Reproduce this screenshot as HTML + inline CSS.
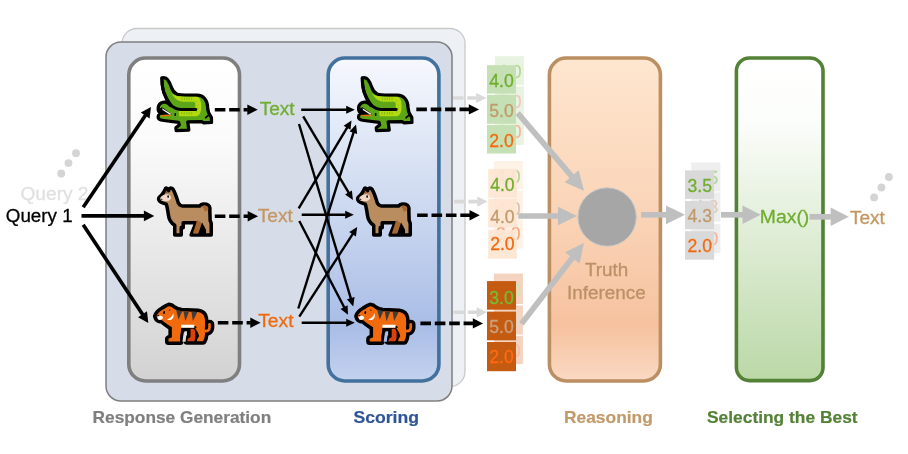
<!DOCTYPE html>
<html><head><meta charset="utf-8">
<style>
html,body{margin:0;padding:0;background:#fff;}
svg{display:block}
text{filter:url(#idf);stroke-width:0.3px;stroke-linejoin:round}
.b text{stroke-width:0.2px}
text{font-family:"Liberation Sans",sans-serif}
</style></head><body>
<svg width="908" height="454" viewBox="0 0 908 454">
<defs>
<filter id="idf" x="-5%" y="-20%" width="110%" height="140%" color-interpolation-filters="sRGB"><feOffset dx="0" dy="0"/></filter>
<linearGradient id="gGray" x1="0" y1="0" x2="0" y2="1"><stop offset="0" stop-color="#ffffff"/><stop offset="0.25" stop-color="#fbfbfb"/><stop offset="1" stop-color="#d2d2d2"/></linearGradient>
<linearGradient id="gBlue" x1="0" y1="0" x2="0" y2="1"><stop offset="0" stop-color="#f6f8fd"/><stop offset="0.5" stop-color="#c9d6ef"/><stop offset="0.83" stop-color="#a9bde6"/><stop offset="1" stop-color="#c4d2ee"/></linearGradient>
<linearGradient id="gOr" x1="0" y1="0" x2="0" y2="1"><stop offset="0" stop-color="#fee6cf"/><stop offset="0.5" stop-color="#fad3b6"/><stop offset="0.83" stop-color="#f6c29f"/><stop offset="1" stop-color="#fad9c3"/></linearGradient>
<linearGradient id="gGr" x1="0" y1="0" x2="0" y2="1"><stop offset="0" stop-color="#ffffff"/><stop offset="0.2" stop-color="#fbfdfa"/><stop offset="1" stop-color="#bbd8a7"/></linearGradient>
</defs>

<rect x="122" y="28.5" width="343" height="358" rx="15" fill="#edf1f5" stroke="#c9c9c9" stroke-width="1.3"/>
<line x1="409.7" y1="98.0" x2="476.7" y2="98.0" stroke="#d9d9d9" stroke-width="3.6" stroke-dasharray="10.6 3.8"/><polygon points="486.5,98.0 476.2,103.1 476.2,92.9" fill="#d9d9d9"/>
<line x1="410.8" y1="201.6" x2="477.8" y2="201.6" stroke="#d9d9d9" stroke-width="3.6" stroke-dasharray="10.6 3.8"/><polygon points="487.6,201.6 477.3,206.7 477.3,196.5" fill="#d9d9d9"/>
<line x1="410.2" y1="312.3" x2="477.2" y2="312.3" stroke="#d9d9d9" stroke-width="3.6" stroke-dasharray="10.6 3.8"/><polygon points="487.0,312.3 476.7,317.4 476.7,307.2" fill="#d9d9d9"/>
<rect x="106" y="42" width="346" height="359" rx="15" fill="#d6dce8" stroke="#7f7f7f" stroke-width="1.5"/>
<rect x="128.8" y="58" width="110.7" height="323" rx="16.8" fill="url(#gGray)" stroke="#7f7f7f" stroke-width="3.6"/>
<rect x="328.2" y="58" width="110.7" height="323" rx="16.8" fill="url(#gBlue)" stroke="#41719c" stroke-width="3.6"/>
<rect x="549.4" y="58" width="111" height="323" rx="16.8" fill="url(#gOr)" stroke="#bc8f63" stroke-width="3.6"/>
<rect x="736.4" y="58" width="86.6" height="322.6" rx="13" fill="url(#gGr)" stroke="#538135" stroke-width="3.6"/>
<g class="b" font-weight="bold" font-size="17">
<text x="92.6" y="422.7" fill="#7f7f7f" stroke="#7f7f7f" textLength="178.6" lengthAdjust="spacingAndGlyphs">Response Generation</text>
<text x="353.4" y="422.7" fill="#2f5597" stroke="#2f5597" textLength="65.6" lengthAdjust="spacingAndGlyphs">Scoring</text>
<text x="564" y="422.7" fill="#c19a6b" stroke="#c19a6b" textLength="88.8" lengthAdjust="spacingAndGlyphs">Reasoning</text>
<text x="707" y="422.7" fill="#538135" stroke="#538135" textLength="150.6" lengthAdjust="spacingAndGlyphs">Selecting the Best</text>
</g>
<g font-size="18.9">
<text x="20.5" y="199.5" fill="#e1e1e1" stroke="#e1e1e1" textLength="68" lengthAdjust="spacingAndGlyphs">Query 2</text>
<text x="5.8" y="221.5" fill="#000" stroke="#000" textLength="66.8" lengthAdjust="spacingAndGlyphs">Query 1</text>
<text x="259.7" y="115.4" fill="#70ad2f" stroke="#70ad2f" textLength="35" lengthAdjust="spacingAndGlyphs">Text</text>
<text x="257.7" y="221.7" fill="#c39762" stroke="#c39762" textLength="35.2" lengthAdjust="spacingAndGlyphs">Text</text>
<text x="258.2" y="326.9" fill="#f26a0e" stroke="#f26a0e" textLength="35.4" lengthAdjust="spacingAndGlyphs">Text</text>
<text x="759.8" y="222.8" fill="#70ad2f" stroke="#70ad2f" textLength="49.5" lengthAdjust="spacingAndGlyphs">Max()</text>
<text x="849.9" y="223.9" fill="#c39762" stroke="#c39762" textLength="35" lengthAdjust="spacingAndGlyphs">Text</text>
<text x="606.6" y="276.4" fill="#bb9166" stroke="#bb9166" text-anchor="middle" font-size="18.9">Truth</text>
<text x="606.4" y="299.3" fill="#bb9166" stroke="#bb9166" text-anchor="middle" font-size="18.9">Inference</text>
</g>
<circle cx="76" cy="153.2" r="3.9" fill="#d4d4d4"/>
<circle cx="68.5" cy="163.1" r="3.9" fill="#d4d4d4"/>
<circle cx="61.2" cy="173.5" r="3.9" fill="#d4d4d4"/>
<circle cx="888.9" cy="177" r="3.9" fill="#d4d4d4"/>
<circle cx="881.4" cy="187.5" r="3.9" fill="#d4d4d4"/>
<circle cx="874.1" cy="197.4" r="3.9" fill="#d4d4d4"/>
<line x1="83.2" y1="207.2" x2="145.5" y2="115.2" stroke="#000" stroke-width="3.6"/><polygon points="151.0,107.0 149.6,118.6 140.8,112.6" fill="#000"/>
<line x1="81.5" y1="215.9" x2="144.4" y2="215.9" stroke="#000" stroke-width="3.6"/><polygon points="154.3,215.9 143.9,221.2 143.9,210.6" fill="#000"/>
<line x1="83.2" y1="224.8" x2="142.8" y2="314.7" stroke="#000" stroke-width="3.6"/><polygon points="148.3,322.9 138.1,317.2 147.0,311.3" fill="#000"/>
<line x1="214.8" y1="109.7" x2="247.8" y2="109.7" stroke="#000" stroke-width="3.6" stroke-dasharray="10.6 3.8"/><polygon points="257.7,109.7 247.3,114.9 247.3,104.5" fill="#000"/>
<line x1="214.8" y1="216.2" x2="248.2" y2="216.2" stroke="#000" stroke-width="3.6" stroke-dasharray="10.6 3.8"/><polygon points="258.1,216.2 247.7,221.4 247.7,211.0" fill="#000"/>
<line x1="217.8" y1="322.8" x2="250.8" y2="322.8" stroke="#000" stroke-width="3.6" stroke-dasharray="10.6 3.8"/><polygon points="260.7,322.8 250.3,327.9 250.3,317.6" fill="#000"/>
<line x1="416.3" y1="109.4" x2="469.3" y2="109.4" stroke="#000" stroke-width="3.6" stroke-dasharray="10.6 3.8"/><polygon points="479.1,109.4 468.8,114.6 468.8,104.2" fill="#000"/>
<line x1="417.1" y1="215.3" x2="470.0" y2="215.3" stroke="#000" stroke-width="3.6" stroke-dasharray="10.6 3.8"/><polygon points="479.8,215.3 469.5,220.5 469.5,210.1" fill="#000"/>
<line x1="420.4" y1="323.4" x2="473.3" y2="323.4" stroke="#000" stroke-width="3.6" stroke-dasharray="10.6 3.8"/><polygon points="483.1,323.4 472.8,328.6 472.8,318.2" fill="#000"/>
<line x1="301.2" y1="109.8" x2="346.7" y2="109.8" stroke="#000" stroke-width="2.4"/><polygon points="354.8,109.8 346.2,113.8 346.2,105.8" fill="#000"/>
<line x1="303.2" y1="116.4" x2="348.8" y2="192.9" stroke="#000" stroke-width="2.4"/><polygon points="352.9,199.9 345.1,194.6 351.9,190.5" fill="#000"/>
<line x1="299.0" y1="124.0" x2="350.9" y2="298.6" stroke="#000" stroke-width="2.4"/><polygon points="353.2,306.4 346.9,299.3 354.6,297.0" fill="#000"/>
<line x1="298.7" y1="208.4" x2="347.3" y2="127.3" stroke="#000" stroke-width="2.4"/><polygon points="351.5,120.4 350.5,129.8 343.6,125.7" fill="#000"/>
<line x1="301.7" y1="214.8" x2="345.7" y2="214.8" stroke="#000" stroke-width="2.4"/><polygon points="353.8,214.8 345.2,218.8 345.2,210.8" fill="#000"/>
<line x1="299.3" y1="221.0" x2="344.3" y2="307.5" stroke="#000" stroke-width="2.4"/><polygon points="348.0,314.7 340.5,308.9 347.6,305.2" fill="#000"/>
<line x1="298.3" y1="308.5" x2="353.6" y2="132.3" stroke="#000" stroke-width="2.4"/><polygon points="356.0,124.6 357.2,134.0 349.6,131.6" fill="#000"/>
<line x1="299.3" y1="316.6" x2="352.8" y2="233.9" stroke="#000" stroke-width="2.4"/><polygon points="357.2,227.1 355.9,236.5 349.2,232.1" fill="#000"/>
<line x1="301.7" y1="322.7" x2="346.7" y2="322.7" stroke="#000" stroke-width="2.4"/><polygon points="354.8,322.7 346.2,326.7 346.2,318.7" fill="#000"/>
<rect x="494.9" y="56.2" width="29" height="28.8" fill="#e8f3e1"/><rect x="494.9" y="86.3" width="29" height="28.8" fill="#e8f3e1"/><rect x="494.9" y="116.3" width="29" height="28.6" fill="#e8f3e1"/><text x="497.2" y="77.7" font-size="17.6" fill="#b5d59a" stroke="#b5d59a">4.0</text><text x="497.2" y="107.89999999999999" font-size="17.6" fill="#efc8bd" stroke="#efc8bd">5.0</text><text x="497.2" y="137.7" font-size="17.6" fill="#f6b59a" stroke="#f6b59a">2.0</text><rect x="487" y="65.2" width="29" height="28.4" fill="#c5e0b4" fill-opacity="1"/><text x="489.3" y="86.7" font-size="17.6" fill="#70ad2f" stroke="#70ad2f">4.0</text><rect x="487" y="94.9" width="29" height="28.9" fill="#c5e0b4" fill-opacity="1"/><text x="489.3" y="116.5" font-size="17.6" fill="#c19a6b" stroke="#c19a6b">5.0</text><rect x="487" y="125.1" width="29" height="28.4" fill="#c5e0b4" fill-opacity="1"/><text x="489.3" y="146.5" font-size="17.6" fill="#f26a0e" stroke="#f26a0e">2.0</text>
<rect x="494.1" y="161" width="28.6" height="28.6" fill="#fef1e6"/><rect x="494.1" y="190.9" width="28.6" height="28.6" fill="#fef1e6"/><rect x="494.1" y="220" width="28.6" height="28.5" fill="#fef1e6"/><text x="496.1" y="182.79999999999998" font-size="17.6" fill="#b5d59a" stroke="#b5d59a">4.0</text><text x="496.1" y="214.5" font-size="17.6" fill="#d9c4ae" stroke="#d9c4ae">4.0</text><text x="496.1" y="240.2" font-size="17.6" fill="#f6a77e" stroke="#f6a77e">2.0</text><rect x="488.2" y="168.9" width="28.6" height="28.7" fill="#fde5d2" fill-opacity="0.93"/><text x="490.2" y="190.7" font-size="17.6" fill="#70ad2f" stroke="#70ad2f">4.0</text><rect x="488.2" y="198.9" width="28.6" height="28.5" fill="#fde5d2" fill-opacity="0.93"/><text x="490.2" y="222.5" font-size="17.6" fill="#c19a6b" stroke="#c19a6b">4.0</text><rect x="488.2" y="229.9" width="28.6" height="28.8" fill="#fde5d2" fill-opacity="0.93"/><text x="490.2" y="250.1" font-size="17.6" fill="#f26a0e" stroke="#f26a0e">2.0</text>
<rect x="493.9" y="273.6" width="29" height="30.4" fill="#f4d3c0"/><rect x="493.9" y="305.5" width="29" height="29" fill="#f4d3c0"/><rect x="493.9" y="335.8" width="29" height="28.3" fill="#f4d3c0"/><text x="496.2" y="296.1" font-size="17.6" fill="#c8eab0" stroke="#c8eab0">3.0</text><text x="496.2" y="327.09999999999997" font-size="17.6" fill="#ead9cc" stroke="#ead9cc">5.0</text><text x="496.2" y="357.0" font-size="17.6" fill="#f5bfa0" stroke="#f5bfa0">2.0</text><rect x="487" y="281.1" width="29" height="28.6" fill="#c55a11" fill-opacity="1"/><text x="489.3" y="303.6" font-size="17.6" fill="#70c030" stroke="#70c030">3.0</text><rect x="487" y="311.6" width="29" height="28.7" fill="#c55a11" fill-opacity="1"/><text x="489.3" y="333.2" font-size="17.6" fill="#c9a27e" stroke="#c9a27e">5.0</text><rect x="487" y="342" width="29" height="29.2" fill="#c55a11" fill-opacity="1"/><text x="489.3" y="363.2" font-size="17.6" fill="#ff6a14" stroke="#ff6a14">2.0</text>
<rect x="691.3" y="162.4" width="29.1" height="29" fill="#eeeeee"/><rect x="691.3" y="192.5" width="29.1" height="29" fill="#eeeeee"/><rect x="691.3" y="224.1" width="29.1" height="29" fill="#eeeeee"/><text x="693.8" y="183.8" font-size="17.6" fill="#b5d59a" stroke="#b5d59a">3.5</text><text x="693.8" y="213.4" font-size="17.6" fill="#e0ccb8" stroke="#e0ccb8">4.3</text><text x="693.8" y="245.20000000000002" font-size="17.6" fill="#f6b59a" stroke="#f6b59a">2.0</text><rect x="685" y="170.4" width="29.1" height="28.5" fill="#d9d9d9" fill-opacity="1"/><text x="687.5" y="191.8" font-size="17.6" fill="#70ad2f" stroke="#70ad2f">3.5</text><rect x="685" y="201" width="29.1" height="28.3" fill="#d9d9d9" fill-opacity="1"/><text x="687.5" y="221.9" font-size="17.6" fill="#c19a6b" stroke="#c19a6b">4.3</text><rect x="685" y="231.2" width="29.1" height="28.5" fill="#d9d9d9" fill-opacity="1"/><text x="687.5" y="252.3" font-size="17.6" fill="#f26a0e" stroke="#f26a0e">2.0</text>
<line x1="517.7" y1="113.2" x2="572.0" y2="176.6" stroke="#bfbfbf" stroke-width="5.7"/><polygon points="584.0,190.7 564.6,182.3 578.7,170.2" fill="#bfbfbf"/>
<line x1="518.3" y1="216.0" x2="558.5" y2="216.0" stroke="#bfbfbf" stroke-width="5.7"/><polygon points="577.0,216.0 558.0,225.2 558.0,206.8" fill="#bfbfbf"/>
<line x1="521.5" y1="323.7" x2="572.6" y2="257.5" stroke="#bfbfbf" stroke-width="5.7"/><polygon points="583.9,242.9 579.6,263.6 565.0,252.3" fill="#bfbfbf"/>
<circle cx="607.1" cy="217" r="29.2" fill="#a6a6a6" stroke="#c9c9c9" stroke-width="1"/>
<line x1="641.1" y1="214.8" x2="666.5" y2="214.8" stroke="#bfbfbf" stroke-width="5.7"/><polygon points="685.0,214.8 666.0,224.2 666.0,205.4" fill="#bfbfbf"/>
<line x1="721.0" y1="214.8" x2="743.0" y2="214.8" stroke="#bfbfbf" stroke-width="5.7"/><polygon points="760.7,214.8 742.5,224.1 742.5,205.5" fill="#bfbfbf"/>
<line x1="809.6" y1="216.8" x2="831.1" y2="216.8" stroke="#bfbfbf" stroke-width="5.7"/><polygon points="848.8,216.8 830.6,226.1 830.6,207.5" fill="#bfbfbf"/>
<g transform="translate(155,72) scale(0.141)">
<g id="croc" stroke-linejoin="round" stroke-linecap="round">
<path d="M49,42 C62,37 80,41 91,56 C102,70 110,90 116,108 C122,128 133,146 156,157 C170,164 200,164 238,164 L298,164 C345,164 373,203 373,250 C373,272 378,292 400,322 L401,358 L345,360 L330,352 L232,353 L240,412 L150,416 L148,396 L172,376 L168,358 L62,344 C38,342 22,334 22,319 C21,306 28,297 34,291 C23,277 20,255 26,238 C34,220 55,210 76,214 C90,218 100,226 110,238 C95,215 80,190 73,170 C58,140 49,100 49,42 Z" fill="#5da617" stroke="#000" stroke-width="23"/>
<path d="M116,148 C135,172 160,176 230,176 L292,176 C318,178 328,205 328,244 C328,284 318,309 292,313 L172,313 L168,277 L278,277 C284,273 286,264 286,252 L286,222 C284,215 278,211 270,211 L200,211 C165,209 138,192 116,148 Z" fill="#b2da0f"/>
<g stroke="#5da617" stroke-width="4" stroke-linecap="butt">
<path d="M192,180v20M210,180v20M226,180v20M242,180v20M260,180v20"/>
<path d="M189,284v18M207,284v18M226,284v18M242,284v18M260,284v18"/>
<path d="M293,204v7M305,232v7M305,254v7M293,279v7"/>
</g>
<polygon points="26,262 50,250 120,300 26,306" fill="#000"/>
<polygon points="50,257 116,298 104,302 54,270" fill="#fff"/>
<rect x="42" y="304" width="68" height="10" fill="#f26a0e"/>
<rect x="138" y="290" width="11" height="22" rx="4" fill="#000"/>
<path d="M49,42 C49,100 58,140 73,170 C85,195 100,225 125,246 C140,258 160,266 180,266 L290,266" fill="none" stroke="#000" stroke-width="21"/>
<path d="M384,302 L360,324" stroke="#000" stroke-width="13"/>
</g>
</g>
<g transform="translate(155,178) scale(0.141)">
<g stroke-linejoin="round" stroke-linecap="round">
<path d="M70,86 L75,73 Q84,66 96,90 Q103,66 120,73 Q130,80 134,92 C144,110 152,135 160,160 C165,182 175,196 195,198 L318,198 C325,185 345,182 365,186 C385,192 392,210 389,232 L391,300 L399,322 L399,405 L256,405 L290,318 L200,318 L200,352 L186,352 L186,405 L140,405 L140,335 C115,320 100,300 95,262 C90,225 85,200 80,185 C60,180 35,172 28,158 C22,145 28,136 40,128 C55,115 62,102 70,86 Z" fill="#b98d60" stroke="#000" stroke-width="25"/>
<path d="M40,134 C52,124 66,116 88,115 C106,116 116,128 113,144 C109,158 96,164 80,164 C60,164 42,160 38,150 Z" fill="#f3d8c8"/>
<ellipse cx="93" cy="132" rx="5.5" ry="10" fill="#000"/>
<ellipse cx="46" cy="151" rx="7" ry="4" fill="#000"/>
<polygon points="76,86 92,100 78,114" fill="#8d5a30"/>
<path d="M333,208 A24,24 0 0 1 378,212 A24,24 0 0 1 352,238 C350,222 345,212 333,208 Z" fill="#a6672f"/>
<polygon points="300,297 334,321 303,394 268,394" fill="#a6672f"/>
<polygon points="334,316 362,367 362,400 304,400" fill="#000"/>
</g>
</g>
<g transform="translate(152,294) scale(0.141)">
<g stroke-linejoin="round" stroke-linecap="round">
<g fill="#000" stroke="#000" stroke-width="50">
<path d="M32,158 C38,138 56,121 74,112 C90,105 102,90 120,86 C138,87 148,96 156,104 C170,114 190,120 210,122 L326,128 C352,131 370,148 374,172 C377,195 377,220 374,239 L207,239 L205,268 L199,300 L199,337 L117,337 L117,318 L141,306 L141,236 C120,222 92,205 72,186 C52,185 36,179 32,158 Z"/><path d="M305,239 L374,239 L376,285 L372,312 L362,335 L318,335 L322,318 L334,300 L326,275 Z"/><path d="M273,247 L308,247 L308,312 L300,335 L249,335 L255,317 L273,305 Z"/>
<path d="M372,262 C396,266 408,256 408,236 L408,216" fill="none" stroke-width="68"/>
<polygon points="215,245 262,245 258,258 236,258" stroke-width="10"/>

</g>
<path d="M32,158 C38,138 56,121 74,112 C90,105 102,90 120,86 C138,87 148,96 156,104 C170,114 190,120 210,122 L326,128 C352,131 370,148 374,172 C377,195 377,220 374,239 L207,239 L205,268 L199,300 L199,337 L117,337 L117,318 L141,306 L141,236 C120,222 92,205 72,186 C52,185 36,179 32,158 Z" fill="#f26a0e"/><path d="M273,247 L308,247 L308,312 L300,335 L249,335 L255,317 L273,305 Z" fill="#d9400f"/><path d="M305,239 L326,275 L334,300 L322,318 L318,335" fill="none" stroke="#000" stroke-width="22"/><path d="M305,239 L374,239 L376,285 L372,312 L362,335 L318,335 L322,318 L334,300 L326,275 Z" fill="#f26a0e"/><rect x="318" y="230" width="56" height="14" fill="#f26a0e"/>
<path d="M372,262 C396,266 408,256 408,236 L408,216" fill="none" stroke="#f26a0e" stroke-width="19"/>
<path d="M170,110 L214,123 L188,180 Z" fill="#3c3c3c"/>
<path d="M224,124 L262,126 L236,194 Z" fill="#3c3c3c"/>
<path d="M280,126 L322,128 L290,192 Z" fill="#3c3c3c"/>

<rect x="207" y="218" width="93" height="21" fill="#fff"/>
<polygon points="226,272 246,272 238,338 216,338" fill="#dddddd"/>
<path d="M40,160 C52,150 72,152 78,166 C76,180 62,186 48,183 C40,179 37,168 40,160 Z" fill="#fff"/>
<path d="M106,180 C130,174 144,158 150,136 C162,166 140,196 106,180 Z" fill="#fff"/>
<ellipse cx="86" cy="132" rx="6.5" ry="11" transform="rotate(15 86 132)" fill="#000"/>
<circle cx="125" cy="114" r="6" fill="#7a3208"/>
<ellipse cx="44" cy="153" rx="7" ry="4" fill="#000"/>

</g>
</g>
<g transform="translate(355.4,72) scale(0.141)">
<g id="croc" stroke-linejoin="round" stroke-linecap="round">
<path d="M49,42 C62,37 80,41 91,56 C102,70 110,90 116,108 C122,128 133,146 156,157 C170,164 200,164 238,164 L298,164 C345,164 373,203 373,250 C373,272 378,292 400,322 L401,358 L345,360 L330,352 L232,353 L240,412 L150,416 L148,396 L172,376 L168,358 L62,344 C38,342 22,334 22,319 C21,306 28,297 34,291 C23,277 20,255 26,238 C34,220 55,210 76,214 C90,218 100,226 110,238 C95,215 80,190 73,170 C58,140 49,100 49,42 Z" fill="#5da617" stroke="#000" stroke-width="23"/>
<path d="M116,148 C135,172 160,176 230,176 L292,176 C318,178 328,205 328,244 C328,284 318,309 292,313 L172,313 L168,277 L278,277 C284,273 286,264 286,252 L286,222 C284,215 278,211 270,211 L200,211 C165,209 138,192 116,148 Z" fill="#b2da0f"/>
<g stroke="#5da617" stroke-width="4" stroke-linecap="butt">
<path d="M192,180v20M210,180v20M226,180v20M242,180v20M260,180v20"/>
<path d="M189,284v18M207,284v18M226,284v18M242,284v18M260,284v18"/>
<path d="M293,204v7M305,232v7M305,254v7M293,279v7"/>
</g>
<polygon points="26,262 50,250 120,300 26,306" fill="#000"/>
<polygon points="50,257 116,298 104,302 54,270" fill="#fff"/>
<rect x="42" y="304" width="68" height="10" fill="#f26a0e"/>
<rect x="138" y="290" width="11" height="22" rx="4" fill="#000"/>
<path d="M49,42 C49,100 58,140 73,170 C85,195 100,225 125,246 C140,258 160,266 180,266 L290,266" fill="none" stroke="#000" stroke-width="21"/>
<path d="M384,302 L360,324" stroke="#000" stroke-width="13"/>
</g>
</g>
<g transform="translate(354,178) scale(0.141)">
<g stroke-linejoin="round" stroke-linecap="round">
<path d="M70,86 L75,73 Q84,66 96,90 Q103,66 120,73 Q130,80 134,92 C144,110 152,135 160,160 C165,182 175,196 195,198 L318,198 C325,185 345,182 365,186 C385,192 392,210 389,232 L391,300 L399,322 L399,405 L256,405 L290,318 L200,318 L200,352 L186,352 L186,405 L140,405 L140,335 C115,320 100,300 95,262 C90,225 85,200 80,185 C60,180 35,172 28,158 C22,145 28,136 40,128 C55,115 62,102 70,86 Z" fill="#b98d60" stroke="#000" stroke-width="25"/>
<path d="M40,134 C52,124 66,116 88,115 C106,116 116,128 113,144 C109,158 96,164 80,164 C60,164 42,160 38,150 Z" fill="#f3d8c8"/>
<ellipse cx="93" cy="132" rx="5.5" ry="10" fill="#000"/>
<ellipse cx="46" cy="151" rx="7" ry="4" fill="#000"/>
<polygon points="76,86 92,100 78,114" fill="#8d5a30"/>
<path d="M333,208 A24,24 0 0 1 378,212 A24,24 0 0 1 352,238 C350,222 345,212 333,208 Z" fill="#a6672f"/>
<polygon points="300,297 334,321 303,394 268,394" fill="#a6672f"/>
<polygon points="334,316 362,367 362,400 304,400" fill="#000"/>
</g>
</g>
<g transform="translate(353.2,294) scale(0.141)">
<g stroke-linejoin="round" stroke-linecap="round">
<g fill="#000" stroke="#000" stroke-width="50">
<path d="M32,158 C38,138 56,121 74,112 C90,105 102,90 120,86 C138,87 148,96 156,104 C170,114 190,120 210,122 L326,128 C352,131 370,148 374,172 C377,195 377,220 374,239 L207,239 L205,268 L199,300 L199,337 L117,337 L117,318 L141,306 L141,236 C120,222 92,205 72,186 C52,185 36,179 32,158 Z"/><path d="M305,239 L374,239 L376,285 L372,312 L362,335 L318,335 L322,318 L334,300 L326,275 Z"/><path d="M273,247 L308,247 L308,312 L300,335 L249,335 L255,317 L273,305 Z"/>
<path d="M372,262 C396,266 408,256 408,236 L408,216" fill="none" stroke-width="68"/>
<polygon points="215,245 262,245 258,258 236,258" stroke-width="10"/>

</g>
<path d="M32,158 C38,138 56,121 74,112 C90,105 102,90 120,86 C138,87 148,96 156,104 C170,114 190,120 210,122 L326,128 C352,131 370,148 374,172 C377,195 377,220 374,239 L207,239 L205,268 L199,300 L199,337 L117,337 L117,318 L141,306 L141,236 C120,222 92,205 72,186 C52,185 36,179 32,158 Z" fill="#f26a0e"/><path d="M273,247 L308,247 L308,312 L300,335 L249,335 L255,317 L273,305 Z" fill="#d9400f"/><path d="M305,239 L326,275 L334,300 L322,318 L318,335" fill="none" stroke="#000" stroke-width="22"/><path d="M305,239 L374,239 L376,285 L372,312 L362,335 L318,335 L322,318 L334,300 L326,275 Z" fill="#f26a0e"/><rect x="318" y="230" width="56" height="14" fill="#f26a0e"/>
<path d="M372,262 C396,266 408,256 408,236 L408,216" fill="none" stroke="#f26a0e" stroke-width="19"/>
<path d="M170,110 L214,123 L188,180 Z" fill="#3c3c3c"/>
<path d="M224,124 L262,126 L236,194 Z" fill="#3c3c3c"/>
<path d="M280,126 L322,128 L290,192 Z" fill="#3c3c3c"/>

<rect x="207" y="218" width="93" height="21" fill="#fff"/>
<polygon points="226,272 246,272 238,338 216,338" fill="#aabde6"/>
<path d="M40,160 C52,150 72,152 78,166 C76,180 62,186 48,183 C40,179 37,168 40,160 Z" fill="#fff"/>
<path d="M106,180 C130,174 144,158 150,136 C162,166 140,196 106,180 Z" fill="#fff"/>
<ellipse cx="86" cy="132" rx="6.5" ry="11" transform="rotate(15 86 132)" fill="#000"/>
<circle cx="125" cy="114" r="6" fill="#7a3208"/>
<ellipse cx="44" cy="153" rx="7" ry="4" fill="#000"/>

</g>
</g>
</svg></body></html>
